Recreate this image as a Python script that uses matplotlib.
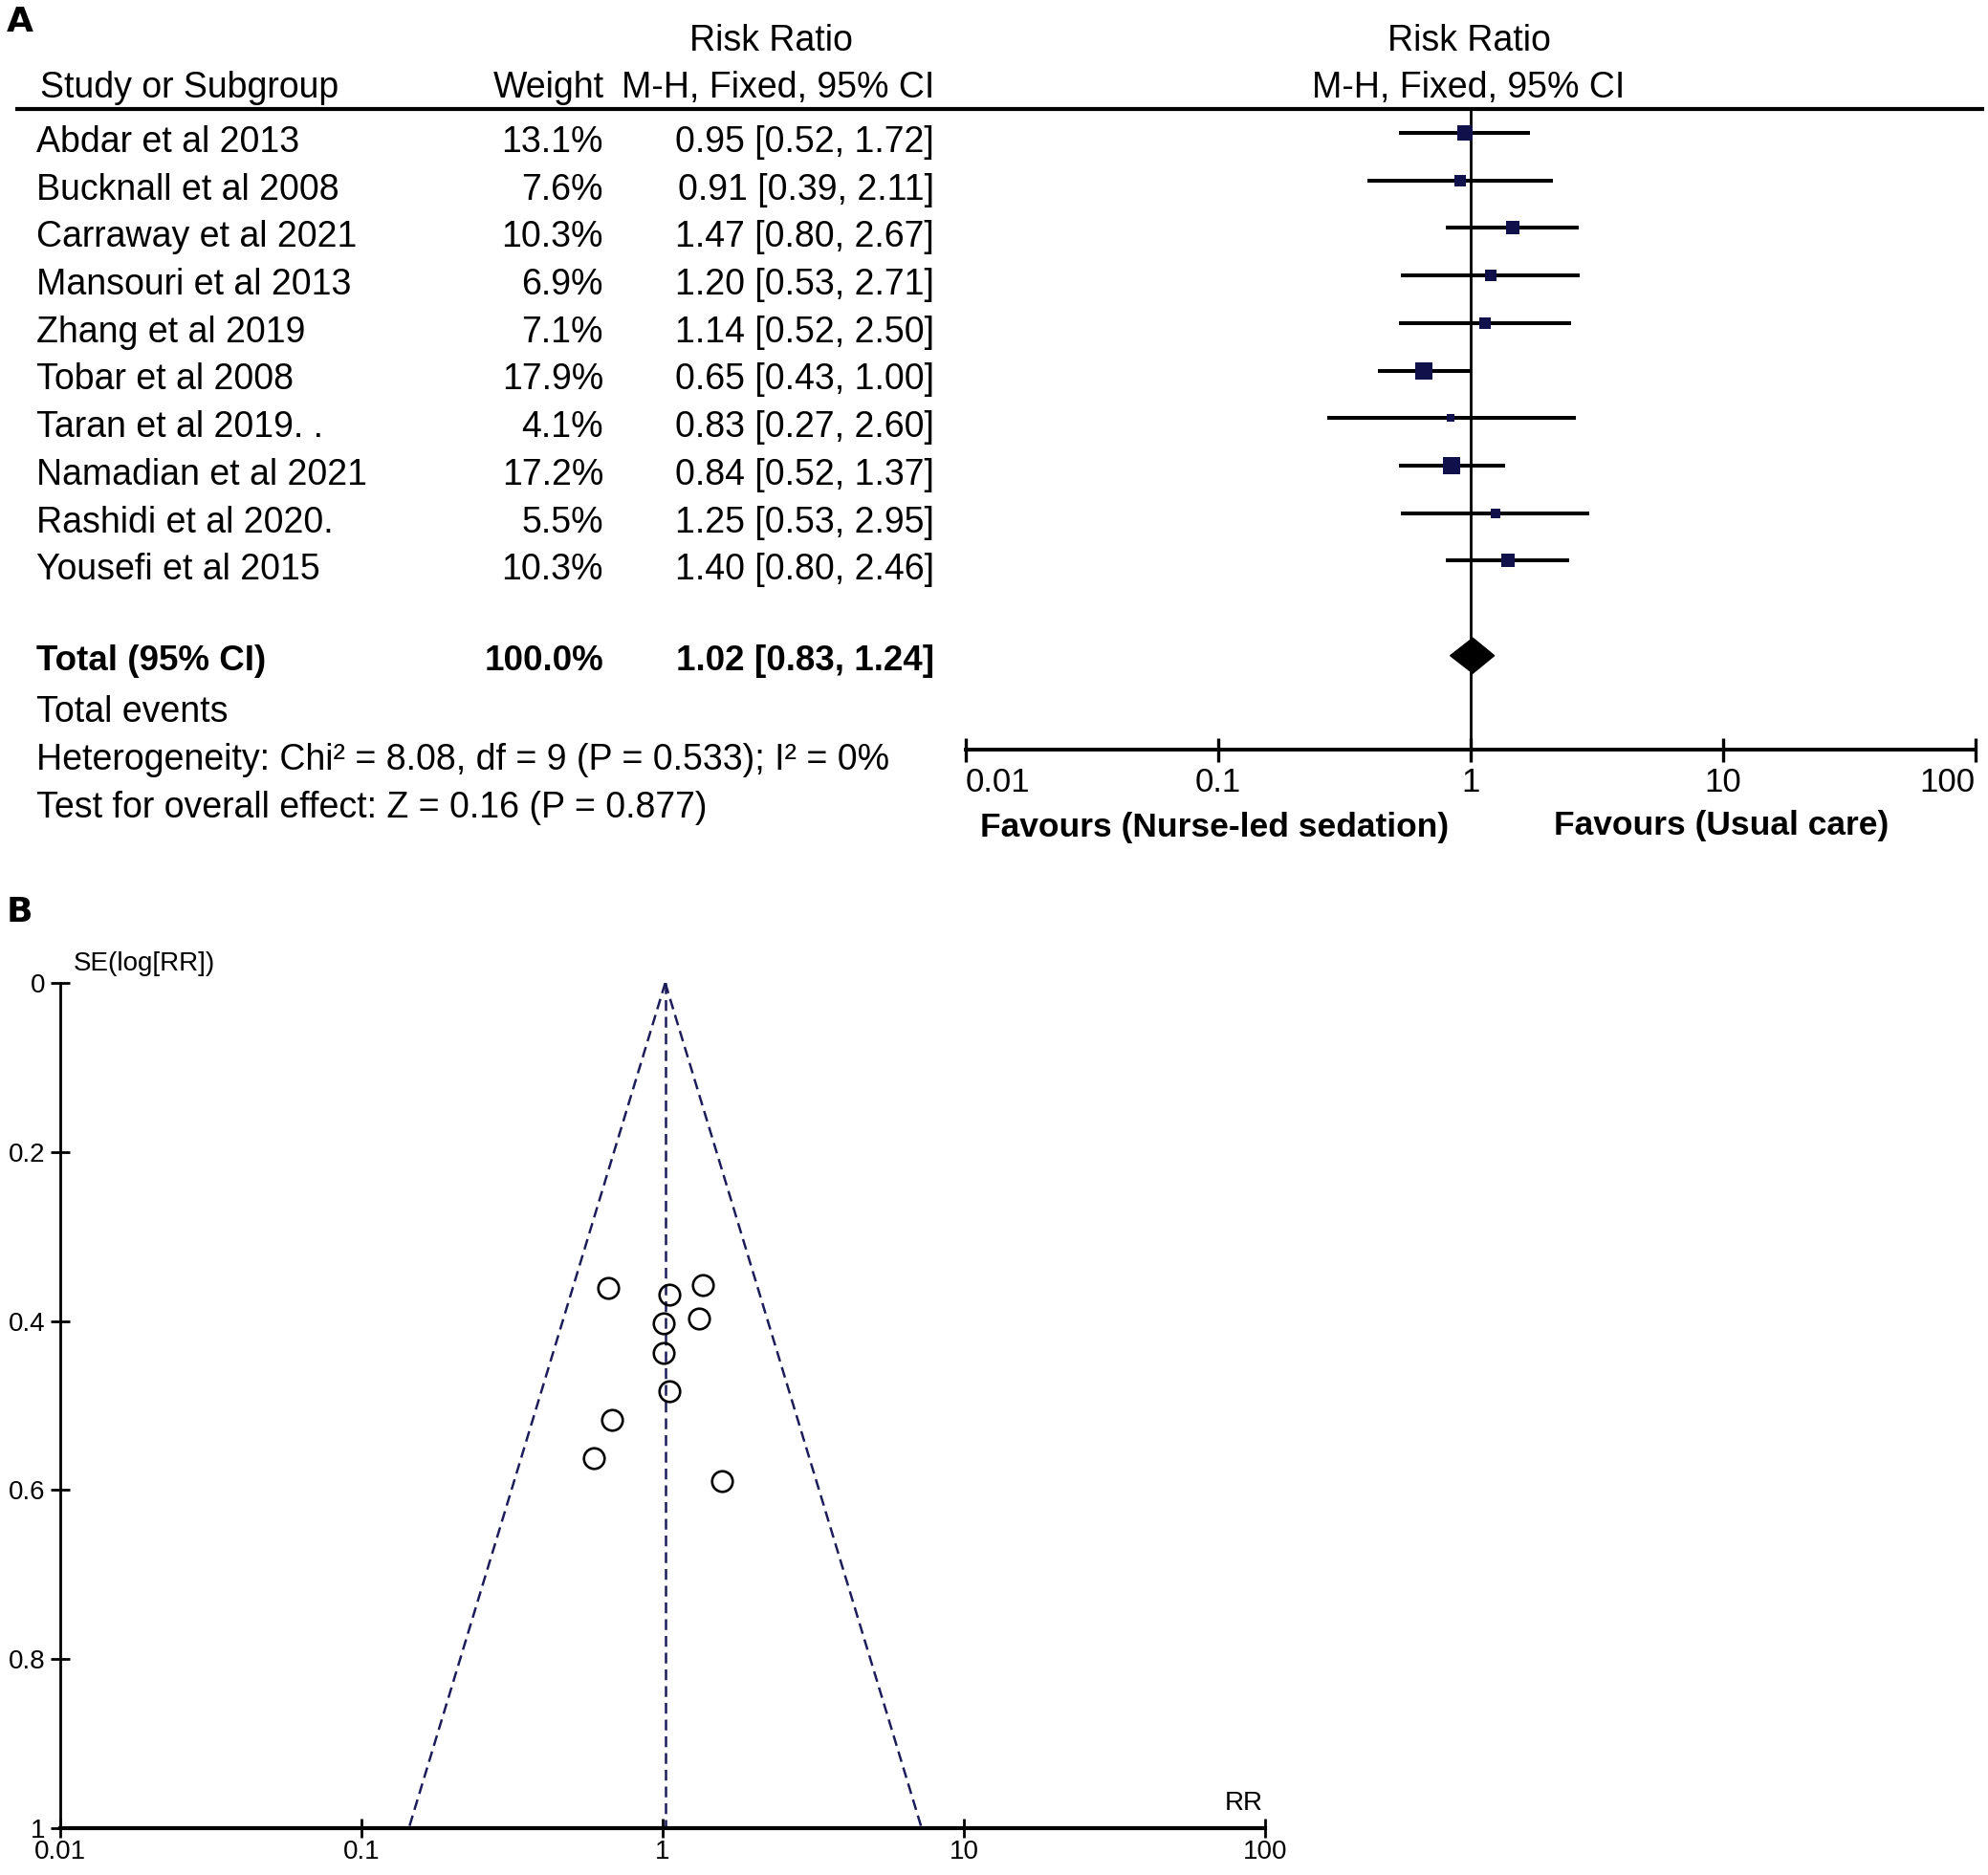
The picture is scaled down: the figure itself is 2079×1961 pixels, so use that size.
import matplotlib
matplotlib.use("Agg")
import matplotlib.pyplot as plt
import numpy as np
from matplotlib.patches import Polygon

plt.rcParams['font.family'] = ['Liberation Sans', 'DejaVu Sans']

# ---------------- data ----------------
studies = ["Abdar et al 2013", "Bucknall et al 2008", "Carraway et al 2021",
           "Mansouri et al 2013", "Zhang et al 2019", "Tobar et al 2008",
           "Taran et al 2019. .", "Namadian et al 2021", "Rashidi et al 2020.",
           "Yousefi et al 2015"]
weights = [13.1, 7.6, 10.3, 6.9, 7.1, 17.9, 4.1, 17.2, 5.5, 10.3]
rr = [0.95, 0.91, 1.47, 1.20, 1.14, 0.65, 0.83, 0.84, 1.25, 1.40]
ci_lo = [0.52, 0.39, 0.80, 0.53, 0.52, 0.43, 0.27, 0.52, 0.53, 0.80]
ci_hi = [1.72, 2.11, 2.67, 2.71, 2.50, 1.00, 2.60, 1.37, 2.95, 2.46]
total_rr, total_lo, total_hi = 1.02, 0.83, 1.24
total_weight = 100.0
heterogeneity = "Heterogeneity: Chi\u00b2 = 8.08, df = 9 (P = 0.533); I\u00b2 = 0%"
overall = "Test for overall effect: Z = 0.16 (P = 0.877)"
forest_ticks = [0.01, 0.1, 1, 10, 100]
forest_ticklabels = ["0.01", "0.1", "1", "10", "100"]
favours_left = "Favours (Nurse-led sedation)"
favours_right = "Favours (Usual care)"

# funnel plot points
funnel_rr = [0.66, 1.05, 1.36, 1.01, 1.32, 1.01, 1.05, 0.68, 0.59, 1.57]
funnel_se = [0.361, 0.369, 0.357, 0.403, 0.397, 0.4375, 0.483, 0.517, 0.5625, 0.589]
funnel_xticks = [0.01, 0.1, 1, 10, 100]
funnel_xticklabels = ["0.01", "0.1", "1", "10", "100"]
funnel_yticks = [0, 0.2, 0.4, 0.6, 0.8, 1]
funnel_yticklabels = ["0", "0.2", "0.4", "0.6", "0.8", "1"]

# ---------------- layout ----------------
W, H = 2079, 1961
fig = plt.figure(figsize=(W / 100, H / 100), dpi=100)


def rect(x0, y0, x1, y1):
    return [x0 / W, 1 - y1 / H, (x1 - x0) / W, (y1 - y0) / H]


def ftext(x, y, s, **kw):
    fig.text(x / W, 1 - y / H, s, **kw)


row0, dy = 139.0, 49.7
top_h = 900
ylim_top = ((top_h - row0) / dy, -row0 / dy)

axT = fig.add_axes(rect(0, 0, W, top_h))
axT.set_xlim(0, W)
axT.set_ylim(*ylim_top)
axT.axis('off')

axF = fig.add_axes(rect(1010, 0, 2066, top_h))
axF.set_xscale('log')
axF.set_xlim(0.01, 100)
axF.set_ylim(*ylim_top)
axF.patch.set_alpha(0)

fs = 27
fsb = 26.5
toff = 0.2
hoff = 0.06
# headers
axT.text(806, -2 + hoff, "Risk Ratio", ha='center', va='center', fontsize=fs)
axT.text(1536, -2 + hoff, "Risk Ratio", ha='center', va='center', fontsize=fs)
axT.text(42, -1 + hoff, "Study or Subgroup", ha='left', va='center', fontsize=fs)
axT.text(632, -1 + hoff, "Weight", ha='right', va='center', fontsize=fs)
axT.text(977, -1 + hoff, "M-H, Fixed, 95% CI", ha='right', va='center', fontsize=fs)
axT.text(1536, -1 + hoff, "M-H, Fixed, 95% CI", ha='center', va='center', fontsize=fs)
axT.plot([16, 2075], [-0.5, -0.5], color='black', lw=3.0, solid_capstyle='butt')

for i, name in enumerate(studies):
    axT.text(38, i + toff, name, ha='left', va='center', fontsize=fs)
    axT.text(631, i + toff, f"{weights[i]:.1f}%", ha='right', va='center', fontsize=fs)
    axT.text(977, i + toff, f"{rr[i]:.2f} [{ci_lo[i]:.2f}, {ci_hi[i]:.2f}]",
             ha='right', va='center', fontsize=fs)

ntot = len(studies) + 1
axT.text(38, ntot + 0.12, "Total (95% CI)", ha='left', va='center', fontsize=fsb, fontweight='bold')
axT.text(631, ntot + 0.12, f"{total_weight:.1f}%", ha='right', va='center', fontsize=fsb, fontweight='bold')
axT.text(977, ntot + 0.12, f"{total_rr:.2f} [{total_lo:.2f}, {total_hi:.2f}]",
         ha='right', va='center', fontsize=fsb, fontweight='bold')
axT.text(38, ntot + 1 + toff, "Total events", ha='left', va='center', fontsize=fs)
axT.text(38, ntot + 2 + toff, heterogeneity, ha='left', va='center', fontsize=fs)
axT.text(38, ntot + 3 + toff, overall, ha='left', va='center', fontsize=fs)

# forest marks
axis_row = 12.98
axF.plot([1, 1], [-0.5, axis_row], color='black', lw=2.0, zorder=1)
for i in range(len(studies)):
    axF.plot([ci_lo[i], ci_hi[i]], [i, i], color='black', lw=2.9, zorder=2,
             solid_capstyle='butt')
    side_px = 4.2 * np.sqrt(weights[i])
    axF.plot([rr[i]], [i], marker='s', markersize=side_px / 1.389, color='#10104a',
             markeredgewidth=0, zorder=3)
dia = Polygon([(total_lo, ntot), (total_rr, ntot - 0.37), (total_hi, ntot),
               (total_rr, ntot + 0.37)], closed=True, facecolor='black',
              edgecolor='black', zorder=3)
axF.add_patch(dia)

for s in ['top', 'left', 'right']:
    axF.spines[s].set_visible(False)
axF.spines['bottom'].set_position(('data', axis_row))
axF.spines['bottom'].set_linewidth(2.8)
axF.set_xticks(forest_ticks)
axF.set_xticklabels([])
axF.xaxis.set_minor_locator(matplotlib.ticker.NullLocator())
axF.tick_params(axis='x', direction='inout', length=18, width=2.4)
axF.set_yticks([])
lab_row = 13.68
for t, lab in zip(forest_ticks, forest_ticklabels):
    ha = 'center'
    if t == forest_ticks[0]:
        ha = 'left'
    elif t == forest_ticks[-1]:
        ha = 'right'
    axF.text(t, lab_row, lab, ha=ha, va='center', fontsize=25)
axT.text(1270, 14.62, favours_left, ha='center', va='center', fontsize=25.5, fontweight='bold')
axT.text(1800, 14.58, favours_right, ha='center', va='center', fontsize=25.5, fontweight='bold')

# panel letters
ftext(7, 23, "A", ha='left', va='center', fontsize=26, fontweight='bold', family='DejaVu Sans')
ftext(7, 954, "B", ha='left', va='center', fontsize=26, fontweight='bold', family='DejaVu Sans')

# ---------------- funnel plot ----------------
axB = fig.add_axes(rect(63, 1028, 1323, 1912))
axB.set_xscale('log')
axB.set_xlim(0.01, 100)
axB.set_ylim(1, 0)
axB.patch.set_alpha(0)
for s in ['top', 'right']:
    axB.spines[s].set_visible(False)
axB.spines['left'].set_linewidth(2.0)
axB.spines['bottom'].set_linewidth(3.0)

se_line = np.array([0.0, 1.0])
navy = '#1c1c5a'
dash = (4.5, 2.5)
axB.plot(total_rr * np.exp(-1.96 * se_line), se_line, color=navy, lw=1.8,
         dashes=dash, zorder=1)
axB.plot(total_rr * np.exp(1.96 * se_line), se_line, color=navy, lw=1.8,
         dashes=dash, zorder=1)
axB.plot([total_rr, total_rr], se_line, color=navy, lw=1.8, dashes=dash, zorder=1)
axB.plot(funnel_rr, funnel_se, linestyle='none', marker='o', markersize=15.5,
         markerfacecolor='none', markeredgecolor='black', markeredgewidth=1.9, zorder=3)

axB.set_xticks(funnel_xticks)
axB.set_xticklabels(funnel_xticklabels, fontsize=20)
axB.xaxis.set_minor_locator(matplotlib.ticker.NullLocator())
axB.set_yticks(funnel_yticks)
axB.set_yticklabels(funnel_yticklabels, fontsize=20)
axB.tick_params(axis='both', direction='inout', length=14, width=2.0)
axB.tick_params(axis='y', pad=4)
axB.tick_params(axis='x', pad=2)

ftext(77, 1008, "SE(log[RR])", ha='left', va='center', fontsize=20)
ftext(1301, 1886, "RR", ha='center', va='center', fontsize=20)

fig.savefig("out.png", dpi=100, facecolor='white')
